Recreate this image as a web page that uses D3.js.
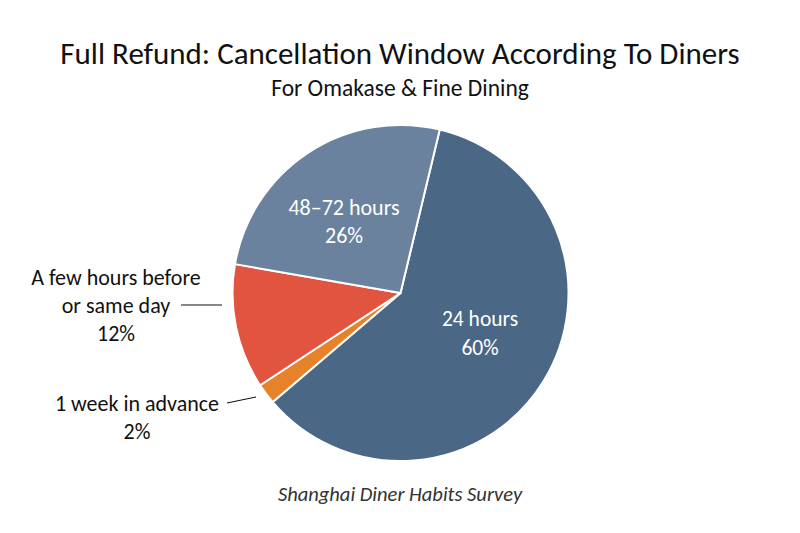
<!DOCTYPE html>
<html><head><meta charset="utf-8">
<script src="https://cdn.jsdelivr.net/npm/d3@7"></script>
<style>body{margin:0;background:#fff}svg{display:block}text{font-family:Carlito,Lato,"Open Sans",sans-serif;}</style>
</head><body>
<svg id="c" width="800" height="533"></svg>
<script>
const categories = ["24 hours", "1 week in advance", "A few hours before or same day", "48–72 hours"];
const values = [60, 2, 12, 26];
const colors = ["#4a6785", "#e6822a", "#e15540", "#6a829e"];

const svg = d3.select("#c");
const cx = 400.5, cy = 293, r = 168;
const startAngle = 13.5 * Math.PI / 180;

const pie = d3.pie().sort(null).value(d => d.v)
  .startAngle(startAngle).endAngle(startAngle + 2 * Math.PI);
const arcs = pie(categories.map((c, i) => ({c, v: values[i], col: colors[i]})));
const arc = d3.arc().innerRadius(0).outerRadius(r);

const g = svg.append("g").attr("transform", `translate(${cx},${cy})`);
g.selectAll("path").data(arcs).join("path")
  .attr("d", arc).attr("fill", d => d.data.col)
  .attr("stroke", "#fff").attr("stroke-width", 2).attr("stroke-linejoin", "round");

// title
svg.append("text").attr("x", 400).attr("y", 64).attr("text-anchor", "middle")
  .attr("font-size", 31).attr("fill", "#111").text("Full Refund: Cancellation Window According To Diners");
svg.append("text").attr("x", 400).attr("y", 96).attr("text-anchor", "middle")
  .attr("font-size", 23.5).attr("fill", "#111").text("For Omakase & Fine Dining");
svg.append("text").attr("x", 400).attr("y", 501).attr("text-anchor", "middle")
  .attr("font-size", 20.5).attr("font-style", "italic").attr("fill", "#333").text("Shanghai Diner Habits Survey");

// inside labels
function lines(x, y, arr, fill, size, gap) {
  const t = svg.append("text").attr("text-anchor", "middle").attr("font-size", size).attr("fill", fill);
  arr.forEach((s, i) => t.append("tspan").attr("x", x).attr("y", y + i * gap).text(s));
}
lines(480, 326, [categories[0], values[0] + "%"], "#fff", 21.5, 29);
lines(344, 215, [categories[3], values[3] + "%"], "#fff", 22, 28);
lines(116, 285, ["A few hours before", "or same day", values[2] + "%"], "#111", 22, 28);
lines(137, 411, [categories[1], values[1] + "%"], "#111", 22, 28);

// leader lines
svg.append("line").attr("x1", 181).attr("y1", 305).attr("x2", 222).attr("y2", 305)
  .attr("stroke", "#111").attr("stroke-width", 1.2);
svg.append("line").attr("x1", 227).attr("y1", 403).attr("x2", 256).attr("y2", 397)
  .attr("stroke", "#111").attr("stroke-width", 1.2);
</script>
</body></html>
